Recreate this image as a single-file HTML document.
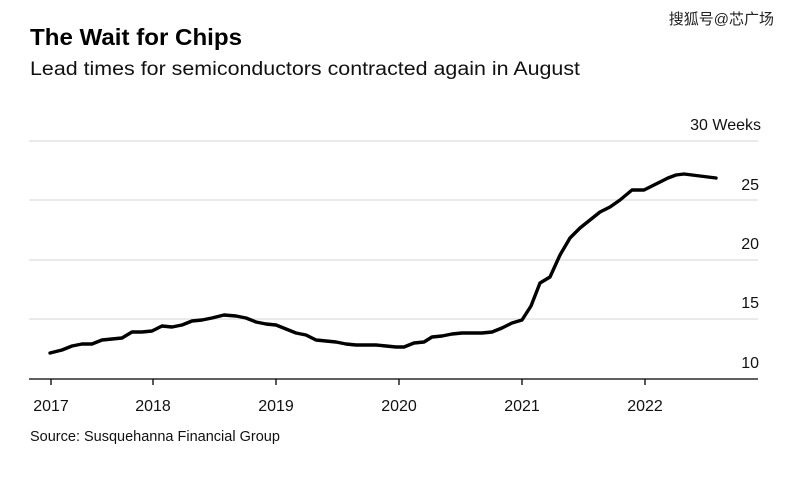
<!DOCTYPE html>
<html><head><meta charset="utf-8"><style>
body{margin:0;width:790px;height:480px;background:#fff;overflow:hidden;font-family:"Liberation Sans",Arial,sans-serif;}
</style></head><body>
<svg width="790" height="480" xmlns="http://www.w3.org/2000/svg" style="position:absolute;left:0;top:0">
<text x="30" y="45" font-size="23" font-weight="bold" fill="#000" textLength="212" lengthAdjust="spacingAndGlyphs">The Wait for Chips</text>
<text x="30" y="75" font-size="19" fill="#111" textLength="550" lengthAdjust="spacingAndGlyphs">Lead times for semiconductors contracted again in August</text>
<text x="774" y="24" font-size="15" fill="#222" text-anchor="end" font-family="'Liberation Sans','Noto Sans CJK SC',sans-serif">搜狐号@芯广场</text>
<g stroke="#ddd" stroke-width="1.3">
<line x1="29" x2="758" y1="141" y2="141"/>
<line x1="29" x2="758" y1="200" y2="200"/>
<line x1="29" x2="758" y1="260" y2="260"/>
<line x1="29" x2="758" y1="319" y2="319"/>
</g>
<line x1="29" x2="758" y1="379" y2="379" stroke="#000" stroke-width="1.3"/>
<g stroke="#000" stroke-width="1.3">
<line x1="51" x2="51" y1="379" y2="385"/><line x1="153" x2="153" y1="379" y2="385"/>
<line x1="276" x2="276" y1="379" y2="385"/><line x1="399" x2="399" y1="379" y2="385"/>
<line x1="522" x2="522" y1="379" y2="385"/><line x1="645" x2="645" y1="379" y2="385"/>
</g>
<g font-size="16" fill="#111" text-anchor="middle">
<text x="51" y="411">2017</text><text x="153" y="411">2018</text><text x="276" y="411">2019</text>
<text x="399" y="411">2020</text><text x="522" y="411">2021</text><text x="645" y="411">2022</text>
</g>
<g font-size="16" fill="#111" text-anchor="end">
<text x="761" y="130">30 Weeks</text><text x="759" y="190">25</text><text x="759" y="249">20</text>
<text x="759" y="308">15</text><text x="759" y="368">10</text>
</g>
<polyline fill="none" stroke="#000" stroke-width="3.4" stroke-linejoin="round" stroke-linecap="round" points="50,353 62,350 72,346 82,344 92,344 102,340 112,339 122,338 132,332 142,332 152,331 162,326 172,327 182,325 192,321 202,320 212,318 224,315 236,316 246,318 256,322 266,324 276,325 286,329 296,333 306,335 316,340 326,341 336,342 346,344 356,345 366,345 376,345 386,346 396,347 404,347 414,343 424,342 432,337 442,336 452,334 462,333 472,333 482,333 492,332 502,328 512,323 522,320 531,306 540,283 550,277 560,255 570,238 580,228 590,220 600,212 610,207 620,200 632,190 644,190 656,184 668,178 676,175 684,174 700,176 716,178"/>
<text x="30" y="441" font-size="14.5" fill="#111">Source: Susquehanna Financial Group</text>
</svg>
</body></html>
